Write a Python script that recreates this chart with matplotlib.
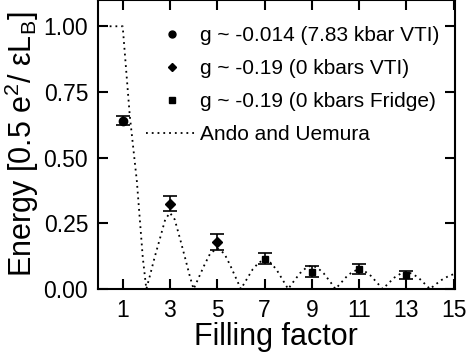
import matplotlib
matplotlib.use("Agg")
import matplotlib.pyplot as plt
from matplotlib.lines import Line2D

plt.rcParams['font.family'] = ['Liberation Sans', 'DejaVu Sans']
plt.rcParams['mathtext.fontset'] = 'custom'
plt.rcParams['mathtext.rm'] = 'Liberation Sans'
plt.rcParams['mathtext.it'] = 'Liberation Sans:italic'

# measured gaps (one marker style per data set)
nu_circle = [1]
e_circle = [0.64]
err_circle_lo = [0.017]
err_circle_hi = [0.017]

nu_diamond = [3, 5]
e_diamond = [0.325, 0.18]
err_diamond_lo = [0.03, 0.03]
err_diamond_hi = [0.03, 0.028]

nu_square = [7, 9, 11, 13]
e_square = [0.114, 0.066, 0.076, 0.053]
err_square_lo = [0.02, 0.019, 0.02, 0.016]
err_square_hi = [0.022, 0.022, 0.018, 0.017]

# Ando and Uemura curve
ando_nu = [0.45, 1.0, 1.3, 1.6, 1.85, 2.0,
           2.15, 2.35, 2.57, 2.8, 3.0, 3.2, 3.43, 3.65, 3.85, 4.0,
           4.2, 4.45, 4.7, 5.0, 5.3, 5.55, 5.8, 6.0,
           6.2, 6.5, 6.75, 7.0, 7.25, 7.5, 7.8, 8.0,
           8.2, 8.5, 8.75, 9.0, 9.25, 9.5, 9.8, 10.0,
           10.2, 10.5, 10.75, 11.0, 11.25, 11.5, 11.8, 12.0,
           12.2, 12.5, 12.75, 13.0, 13.25, 13.5, 13.8, 14.0,
           14.2, 14.5, 14.8, 15.05]
ando_e = [1.0, 1.0, 0.66, 0.41, 0.12, 0.0,
          0.05, 0.12, 0.19, 0.265, 0.29, 0.265, 0.19, 0.115, 0.045, 0.0,
          0.04, 0.09, 0.135, 0.155, 0.135, 0.09, 0.04, 0.0,
          0.03, 0.075, 0.1, 0.112, 0.1, 0.075, 0.03, 0.0,
          0.025, 0.06, 0.08, 0.09, 0.08, 0.06, 0.025, 0.0,
          0.02, 0.05, 0.067, 0.075, 0.067, 0.05, 0.02, 0.0,
          0.018, 0.044, 0.058, 0.065, 0.058, 0.044, 0.018, 0.0,
          0.015, 0.035, 0.05, 0.058]

labels = ['g ~ -0.014 (7.83 kbar VTI)', 'g ~ -0.19 (0 kbars VTI)',
          'g ~ -0.19 (0 kbars Fridge)', 'Ando and Uemura']
x_ticks = [1, 3, 5, 7, 9, 11, 13, 15]
y_ticks = [0.0, 0.25, 0.5, 0.75, 1.0]

fig = plt.figure(figsize=(4.66, 3.54), dpi=100)
ax = fig.add_axes([0.21, 0.1836, 0.766, 0.8164])

dots = (0, (1, 2.2))
ax.plot(ando_nu, ando_e, color='black', lw=1.3, linestyle=dots)

ebar = dict(color='black', ecolor='black', elinewidth=1.2, capsize=5,
            capthick=1.2, linestyle='none')
ax.errorbar(nu_circle, e_circle, yerr=[err_circle_lo, err_circle_hi],
            marker='o', markersize=6, **ebar)
ax.errorbar(nu_diamond, e_diamond, yerr=[err_diamond_lo, err_diamond_hi],
            marker='D', markersize=5.5, **ebar)
ax.errorbar(nu_square, e_square, yerr=[err_square_lo, err_square_hi],
            marker='s', markersize=5, **ebar)

handles = [
    Line2D([], [], color='black', marker='o', markersize=5, linestyle='none'),
    Line2D([], [], color='black', marker='D', markersize=4.5, linestyle='none'),
    Line2D([], [], color='black', marker='s', markersize=4.5, linestyle='none'),
    Line2D([], [], color='black', lw=1.3, linestyle=dots),
]
ax.legend(handles, labels, loc='upper left', bbox_to_anchor=(0.124, 0.925),
          frameon=False, fontsize=15, handlelength=2.45, handletextpad=0.12,
          labelspacing=0.68, borderpad=0.2, borderaxespad=0, numpoints=1)

ax.set_xlim(-0.05, 15.05)
ax.set_ylim(0, 1.1)
ax.set_xticks(x_ticks)
ax.set_yticks(y_ticks)
ax.set_yticklabels([f'{v:.2f}' for v in y_ticks])
ax.tick_params(direction='in', length=7, width=1.5, labelsize=16.5,
               top=True, right=True, pad=7)
for s in ax.spines.values():
    s.set_linewidth(1.5)

ax.set_xlabel('Filling factor', fontsize=22, labelpad=0)
ax.set_ylabel('Energy [0.5 e$^2$/ εL$_\\mathrm{B}$]', fontsize=22, labelpad=2)

fig.savefig('out.png', dpi=100)
